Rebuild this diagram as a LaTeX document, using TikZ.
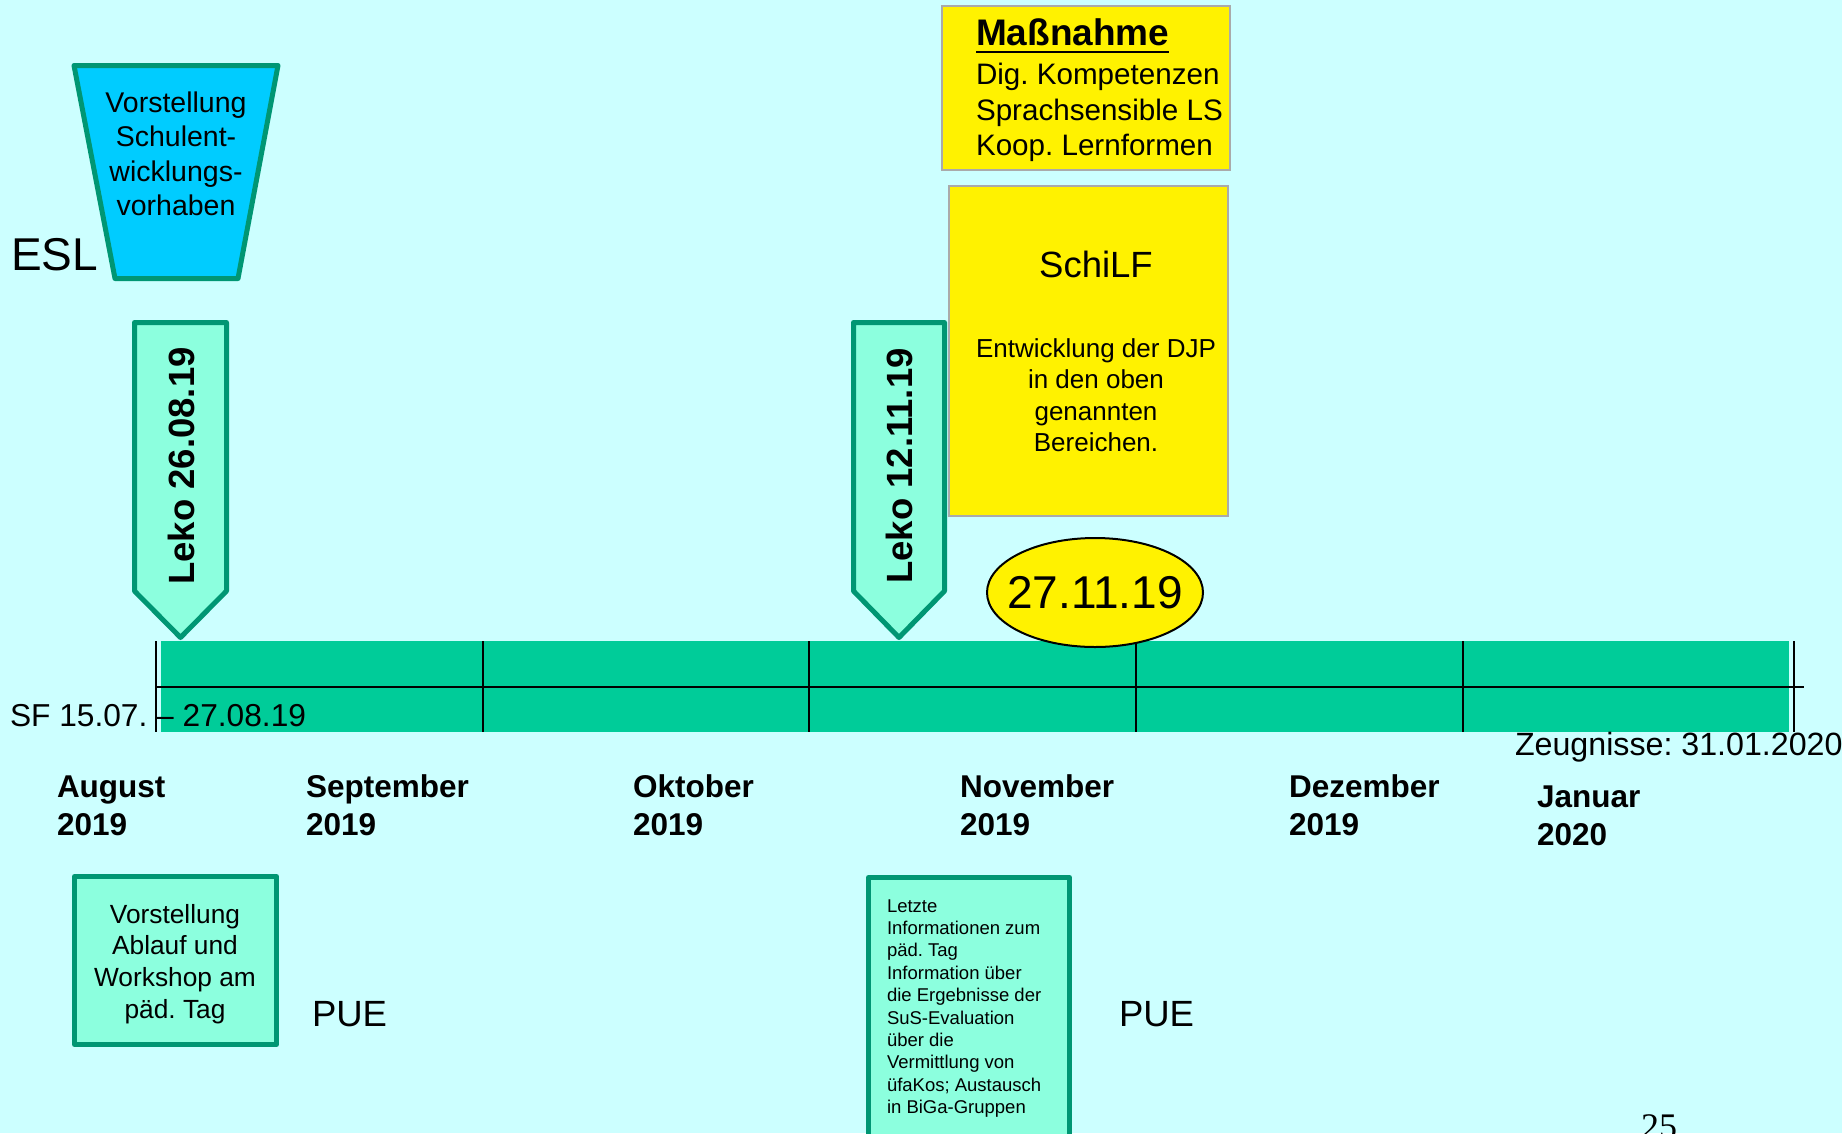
\documentclass[tikz,border=0pt]{standalone}
\usepackage{fontspec}
\setmainfont{Liberation Sans}
\newfontfamily\pagenumfont{Liberation Serif}
\usetikzlibrary{shapes.geometric}

\definecolor{bgcyan}{RGB}{204,255,255}
\definecolor{barteal}{RGB}{0,204,153}
\definecolor{edgegreen}{RGB}{0,150,115}
\definecolor{mintfill}{RGB}{140,255,222}
\definecolor{skyblue}{RGB}{0,204,255}
\definecolor{boxgray}{RGB}{170,170,170}

% font size in px-sized points
\newcommand\fsz[1]{\fontsize{#1}{#1}\selectfont}
% stacked lines with a fixed baseline distance; baseline = first line
\newcommand\stackL[2]{\vtop{\baselineskip=#1pt\lineskiplimit=-\maxdimen\halign{##\hfil\cr#2\crcr}}}
\newcommand\stackC[2]{\vtop{\baselineskip=#1pt\lineskiplimit=-\maxdimen\halign{\hfil##\hfil\cr#2\crcr}}}
\frenchspacing

\begin{document}
\begin{tikzpicture}[x=1pt,y=-1pt,
  outlined/.style={draw=edgegreen,line width=5pt,line join=round},
  gridline/.style={draw=black,line width=2pt},
  notebox/.style={fill=yellow,draw=boxgray,line width=2.5pt},
  lbl/.style={inner sep=0pt,outer sep=0pt,text=black},
  month/.style={lbl,anchor=base west,font=\bfseries\fsz{31.5}},
]
% canvas
\fill[bgcyan] (0,0) rectangle (1842,1133);
\useasboundingbox (0,0) rectangle (1842,1133);

% ESL trapezoid
\path[outlined,fill=skyblue] (74,65.5) -- (278,65.5) -- (238,278.5) -- (115,278.5) -- cycle;
\node[lbl,anchor=base,font=\fsz{28.5}] (esltext) at (176,112)
  {\stackC{34.5}{Vorstellung\cr Schulent-\cr wicklungs-\cr vorhaben}};
\node[lbl,anchor=base west,font=\fsz{46}] (esl) at (11,270) {ESL};

% Leko markers
\path[outlined,fill=mintfill] (134.5,322.5) -- (226.5,322.5) -- (226.5,591) -- (180.5,637.5) -- (134.5,591) -- cycle;
\path[outlined,fill=mintfill] (853.5,322.5) -- (944.5,322.5) -- (944.5,591) -- (899,637.5) -- (853.5,591) -- cycle;
\node[lbl,rotate=90,font=\bfseries\fsz{36.5}] (leko1) at (181,466) {Leko 26.08.19};
\node[lbl,rotate=90,font=\bfseries\fsz{36.5}] (leko2) at (899,466) {Leko 12.11.19};

% yellow boxes
\path[notebox] (942,6) rectangle (1230,170);
\node[lbl,anchor=base west,font=\bfseries\fsz{37}] (masstitle) at (976,45) {Maßnahme};
\draw[line width=2.8pt] ([yshift=-7pt]masstitle.base west) -- ([yshift=-7pt]masstitle.base east);
\node[lbl,anchor=base west,font=\fsz{29.6}] (massbody) at (976,84.5)
  {\stackL{35.5}{Dig. Kompetenzen\cr Sprachsensible LS\cr Koop. Lernformen}};

\path[notebox] (949,186) rectangle (1228,516);
\node[lbl,anchor=base,font=\fsz{36.5}] (schilf) at (1096,277) {SchiLF};
\node[lbl,anchor=base,font=\fsz{26}] (schilfbody) at (1096,357)
  {\stackC{31.5}{Entwicklung der DJP\cr in den oben\cr genannten\cr Bereichen.}};

% timeline bar
\fill[barteal] (161,641) rectangle (1789,732);
\draw[gridline] (156,687) -- (1804,687);
\foreach \xx in {156,483,809,1136,1463,1794}
  \draw[gridline] (\xx,641) -- (\xx,732);

% date ellipse
\node[ellipse,draw=black,line width=2pt,fill=yellow,minimum width=216pt,minimum height=109pt,
      inner sep=0pt,font=\fsz{46}] (datum) at (1095,592.5) {\makebox[0pt]{27.11.19}};

% side labels
\node[lbl,anchor=base west,font=\fsz{31.7}] (sf) at (10,726) {SF 15.07. – 27.08.19};
\node[lbl,anchor=base west,font=\fsz{32.2}] (zeugnisse) at (1515,755) {Zeugnisse: 31.01.2020};

% month labels
\node[month] (aug) at (57,797)   {\stackL{38}{August\cr 2019}};
\node[month] (sep) at (306,797)  {\stackL{38}{September\cr 2019}};
\node[month] (okt) at (633,797)  {\stackL{38}{Oktober\cr 2019}};
\node[month] (nov) at (960,797)  {\stackL{38}{November\cr 2019}};
\node[month] (dez) at (1289,797) {\stackL{38}{Dezember\cr 2019}};
\node[month] (jan) at (1537,807) {\stackL{38}{Januar\cr 2020}};

% lower boxes
\path[outlined,fill=mintfill] (74.5,876.5) rectangle (276.5,1044.5);
\node[lbl,anchor=base,font=\fsz{26.3}] (ablauf) at (175,923)
  {\stackC{31.7}{Vorstellung\cr Ablauf und\cr Workshop am\cr päd. Tag}};
\node[lbl,anchor=base west,font=\fsz{36.5}] (pue1) at (312,1026) {PUE};

\path[outlined,fill=mintfill] (868.5,877.5) rectangle (1069.5,1150);
\node[lbl,anchor=base west,font=\fsz{18.5}] (infos) at (887,912)
  {\stackL{22.4}{Letzte\cr Informationen zum\cr päd. Tag\cr Information über\cr die Ergebnisse der\cr
   SuS-Evaluation\cr über die\cr Vermittlung von\cr üfaKos; Austausch\cr in BiGa-Gruppen}};
\node[lbl,anchor=base west,font=\fsz{36.5}] (pue2) at (1119,1026) {PUE};

% page number
\node[lbl,anchor=base west,font=\pagenumfont\fsz{36}] (seite) at (1641,1138) {25};
\end{tikzpicture}
\end{document}
